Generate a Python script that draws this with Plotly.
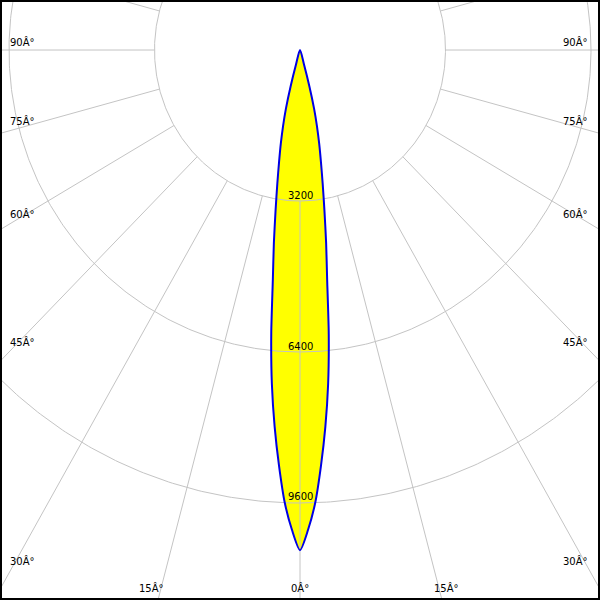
import numpy as np
import plotly.graph_objects as go

# ---- data ----
angles_deg = [0, 1, 2, 3, 4, 5, 6, 7, 8, 9, 10, 11, 12, 13, 14, 15, 16, 17]
intensity_cd = [10600, 10170, 9600, 8820, 8000, 7100, 6050, 4900, 4130, 3430,
                2870, 2410, 2030, 1660, 1280, 800, 320, 0]

ring_values = [3200, 6400, 9600]
ring_labels = ["3200", "6400", "9600"]
spoke_angles = list(range(0, 360, 15))

left_labels = ["90Â°", "75Â°", "60Â°", "45Â°", "30Â°"]
left_label_y_px = [42, 121, 214, 342, 561]
bottom_labels = ["15Â°", "0Â°", "15Â°"]
bottom_label_x_px = [151, 300, 446]

# ---- view (cd units) ----
W = H = 600
x_range = [-6598, 6598]
y_range = [-11656, 1060]
grid_color = "#c4c4c4"
font = dict(family="DejaVu Sans", size=10, color="black")

fig = go.Figure()

# beam shape (mirror of the half curve)
th = np.radians(np.array(angles_deg, dtype=float))
I = np.array(intensity_cd, dtype=float)
th_full = np.concatenate([-th[::-1], th[1:]])
I_full = np.concatenate([I[::-1], I[1:]])
bx = I_full * np.sin(th_full)
by = -I_full * np.cos(th_full)

fig.add_trace(go.Scatter(x=bx, y=by, mode="lines", fill="toself",
                         fillcolor="#ffff00",
                         line=dict(width=0, color="#ffff00", shape="spline", smoothing=0.7),
                         hoverinfo="skip", showlegend=False))

# grid circles
t = np.linspace(0, 2 * np.pi, 721)
for rv in ring_values:
    fig.add_trace(go.Scatter(x=rv * np.sin(t), y=-rv * np.cos(t), mode="lines",
                             line=dict(color=grid_color, width=1),
                             hoverinfo="skip", showlegend=False))

# spokes
r0, r1 = ring_values[0], 20000
for a in spoke_angles:
    ar = np.radians(a)
    fig.add_trace(go.Scatter(x=[r0 * np.sin(ar), r1 * np.sin(ar)],
                             y=[-r0 * np.cos(ar), -r1 * np.cos(ar)], mode="lines",
                             line=dict(color=grid_color, width=1),
                             hoverinfo="skip", showlegend=False))

# beam outline
fig.add_trace(go.Scatter(x=bx, y=by, mode="lines",
                         line=dict(width=2, color="#0000e6", shape="spline", smoothing=0.7),
                         hoverinfo="skip", showlegend=False))

ann = []
for rv, lab in zip(ring_values, ring_labels):
    ann.append(dict(x=0, y=-rv, xref="x", yref="y", text=lab, showarrow=False,
                    font=font, xanchor="center", yanchor="middle", yshift=6))
for lab, ypx in zip(left_labels, left_label_y_px):
    yp = 1 - ypx / H
    ann.append(dict(x=8 / W, y=yp, xref="paper", yref="paper", text=lab, showarrow=False,
                    font=font, xanchor="left", yanchor="middle"))
    ann.append(dict(x=590 / W, y=yp, xref="paper", yref="paper", text=lab, showarrow=False,
                    font=font, xanchor="right", yanchor="middle"))
for lab, xpx in zip(bottom_labels, bottom_label_x_px):
    ann.append(dict(x=xpx / W, y=1 - 588 / H, xref="paper", yref="paper", text=lab,
                    showarrow=False, font=font, xanchor="center", yanchor="middle"))

fig.update_layout(
    width=W, height=H, margin=dict(l=0, r=0, t=0, b=0),
    paper_bgcolor="white", plot_bgcolor="white",
    xaxis=dict(range=x_range, visible=False, fixedrange=True),
    yaxis=dict(range=y_range, visible=False, fixedrange=True),
    annotations=ann, showlegend=False,
    shapes=[dict(type="rect", xref="paper", yref="paper", x0=0, y0=0, x1=1, y1=1,
                 line=dict(color="black", width=4))],
)

fig.write_html("out.html", config={"displayModeBar": False})
with open("out.html", "r", encoding="utf-8") as f:
    html = f.read()
html = html.replace("<body>", '<body style="margin:0;overflow:hidden">', 1)
with open("out.html", "w", encoding="utf-8") as f:
    f.write(html)
